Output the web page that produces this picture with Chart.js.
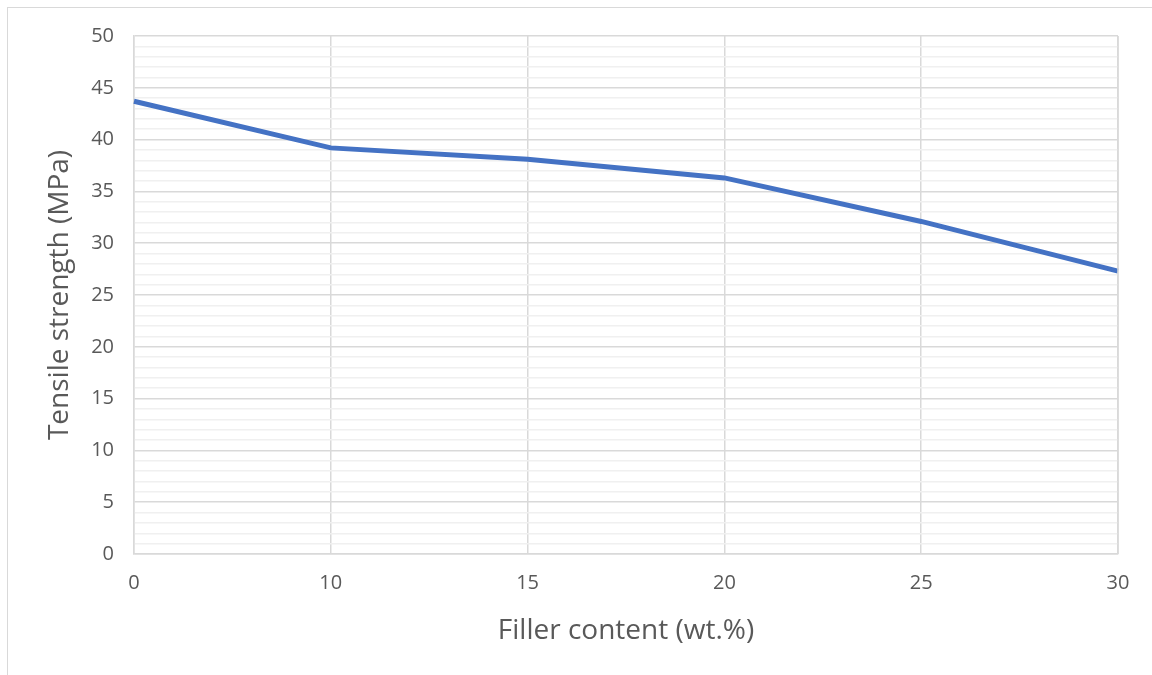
<!DOCTYPE html>
<html><head><meta charset="utf-8">
<script src="https://cdn.jsdelivr.net/npm/chart.js@4"></script>
<style>
html,body{margin:0;padding:0;background:#fff;}
#wrap{position:absolute;left:0;top:0;width:1152px;height:675px;}
#border{position:absolute;left:7px;top:7px;width:1200px;height:700px;border:1px solid #d9d9d9;box-sizing:border-box;}
canvas{position:absolute;left:0;top:0;}
</style></head><body>
<div id="wrap"><div id="border"></div><canvas id="c" width="1152" height="675"></canvas></div>
<script>
const categories = ['0','10','15','20','25','30'];
const tensileStrength = [43.7, 39.2, 38.1, 36.3, 32.1, 27.3];
const xTitle = 'Filler content (wt.%)';
const yTitle = 'Tensile strength (MPa)';
const yMin = 0, yMax = 50, yMajor = 5, yMinor = 1;

const font = "'Open Sans', 'Noto Sans', sans-serif";
new Chart(document.getElementById('c'), {
  type: 'line',
  data: { labels: categories, datasets: [{
    data: tensileStrength, borderColor: '#4472c4', borderWidth: 5,
    pointRadius: 0, tension: 0, fill: false
  }]},
  options: {
    responsive: false, animation: false,
    layout: { padding: { left: 30, right: 34, top: 36, bottom: 0 } },
    plugins: { legend: { display: false }, tooltip: { enabled: false } },
    scales: {
      x: {
        offset: false,
        afterFit: s => { s.height = 121; },
        grid: { color: '#d9d9d9', lineWidth: 1.5, drawTicks: false },
        border: { color: '#d9d9d9', width: 1.5 },
        ticks: { color: '#595959', font: { family: font, size: 20 }, padding: 17, maxRotation: 0 },
        title: { display: true, text: xTitle, color: '#595959', font: { family: font, size: 28 }, padding: { top: 0, bottom: 27 } }
      },
      y: {
        min: yMin, max: yMax,
        afterFit: s => { s.width = 104; },
        grid: { color: c => (c.tick && c.tick.value % yMajor === 0) ? '#d9d9d9' : '#f0f0f0', lineWidth: 1.5, drawTicks: false },
        border: { color: '#d9d9d9', width: 1.5 },
        ticks: { stepSize: yMinor, autoSkip: false, color: '#595959', font: { family: font, size: 20 }, padding: 20,
          callback: v => (v % yMajor === 0) ? v : '' },
        title: { display: true, text: yTitle, color: '#595959', font: { family: font, size: 28 }, padding: { top: 13, bottom: 0 } }
      }
    }
  },
  plugins: [{ id: 'rightBorder', afterDraw(chart) {
    const a = chart.chartArea, ctx = chart.ctx;
    ctx.save(); ctx.strokeStyle = '#d9d9d9'; ctx.lineWidth = 1.5;
    ctx.beginPath(); ctx.moveTo(a.right, a.top); ctx.lineTo(a.right, a.bottom); ctx.stroke(); ctx.restore();
  }}]
});
</script>
</body></html>
